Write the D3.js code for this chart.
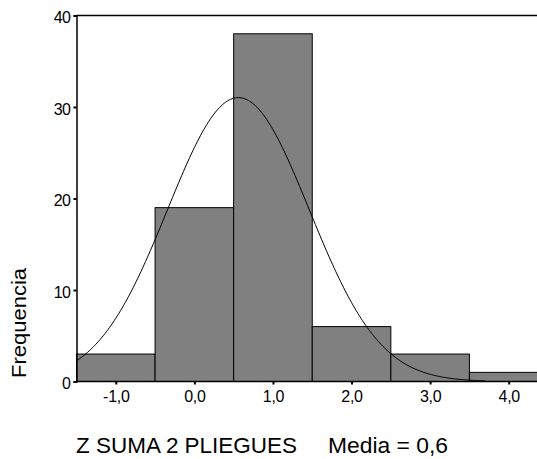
<!DOCTYPE html>
<html><head><meta charset="utf-8">
<script src="https://cdn.jsdelivr.net/npm/d3@7"></script>
<style>body{margin:0;background:#fff}svg{display:block;font-family:"Liberation Sans",Arial,sans-serif}</style>
</head><body><svg id="c" width="537" height="459"></svg>
<script>
const binCenters = [-1, 0, 1, 2, 3, 4];
const counts = [3, 19, 38, 6, 3, 1];
const xTicks = [-1, 0, 1, 2, 3, 4];
const xTickLabels = ["-1,0", "0,0", "1,0", "2,0", "3,0", "4,0"];
const yTicks = [0, 10, 20, 30, 40];
const meanVal = 0.56, sdVal = 0.9, binWidth = 1;
const curveRange = [-1.5, 3.7];

const svg = d3.select("#c");
const x = d3.scaleLinear().domain([-1.5, 4.5]).range([76.5, 548]);
const y = d3.scaleLinear().domain([0, 40]).range([381.5, 15.5]);
const N = d3.sum(counts);

// bars
svg.selectAll("rect.bar").data(binCenters).join("rect")
  .attr("x", d => x(d - binWidth/2)).attr("width", d => x(d + binWidth/2) - x(d - binWidth/2))
  .attr("y", (d,i) => y(counts[i])).attr("height", (d,i) => y(0) - y(counts[i]))
  .attr("fill", "#808080").attr("stroke", "#000").attr("stroke-width", 1);

// normal curve
const pts = d3.range(curveRange[0], curveRange[1] + 0.001, 0.02).map(v =>
  [v, N * binWidth / (sdVal * Math.sqrt(2*Math.PI)) * Math.exp(-0.5 * Math.pow((v-meanVal)/sdVal, 2))]);
svg.append("path").datum(pts)
  .attr("d", d3.line().x(d => x(d[0])).y(d => y(d[1])))
  .attr("fill", "none").attr("stroke", "#000").attr("stroke-width", 1);

// axes
const yAxis = d3.axisLeft(y).tickValues(yTicks).tickSize(3).tickPadding(3).tickFormat(d3.format("d"));
const gy = svg.append("g").attr("transform", "translate(76.5,0)").call(yAxis);
gy.select(".domain").attr("stroke-width", 1.5);
gy.selectAll("text").attr("font-size", 16).attr("dy", "0.45em").attr("letter-spacing", "-0.5px").attr("fill", "#000").attr("font-family", "Liberation Sans, Arial, sans-serif");
gy.selectAll(".tick line").attr("stroke-width", 2);

const xAxis = d3.axisBottom(x).tickValues(xTicks).tickSize(3).tickPadding(6).tickFormat((d,i) => xTickLabels[i]);
const gx = svg.append("g").attr("transform", "translate(0,381.5)").call(xAxis);
gx.select(".domain").remove();
gx.selectAll("text").attr("font-size", 16).attr("letter-spacing", "-0.3px").attr("fill", "#000").attr("font-family", "Liberation Sans, Arial, sans-serif");
gx.selectAll(".tick line").attr("stroke-width", 2);

// frame lines
svg.append("line").attr("x1", 76.5).attr("x2", 537).attr("y1", 15.5).attr("y2", 15.5).attr("stroke", "#000").attr("stroke-width", 1.5);
svg.append("line").attr("x1", 76.5).attr("x2", 537).attr("y1", 381.5).attr("y2", 381.5).attr("stroke", "#000").attr("stroke-width", 1.5);

// labels
svg.append("text").attr("transform", "translate(26,323) rotate(-90)").attr("text-anchor", "middle")
  .attr("font-size", 21).attr("textLength", 110).attr("lengthAdjust", "spacingAndGlyphs").text("Frequencia");
svg.append("text").attr("x", 76).attr("y", 453).attr("font-size", 22)
  .attr("textLength", 221).attr("lengthAdjust", "spacingAndGlyphs").text("Z SUMA 2 PLIEGUES");
svg.append("text").attr("x", 328).attr("y", 453).attr("font-size", 22)
  .attr("textLength", 120).attr("lengthAdjust", "spacingAndGlyphs").text("Media = 0,6");
</script></body></html>
